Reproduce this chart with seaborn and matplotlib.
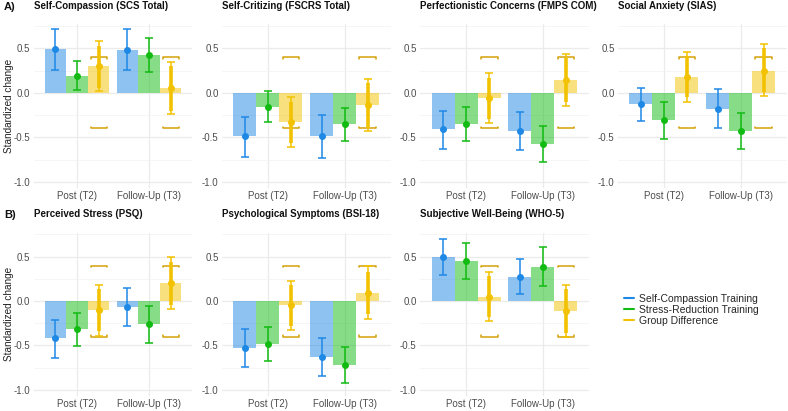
import numpy as np
import pandas as pd
import seaborn as sns
import matplotlib.pyplot as plt
from matplotlib.lines import Line2D

# Daten
measures = [
    "Self-Compassion (SCS Total)",
    "Self-Critizing (FSCRS Total)",
    "Perfectionistic Concerns (FMPS COM)",
    "Social Anxiety (SIAS)",
    "Perceived Stress (PSQ)",
    "Psychological Symptoms (BSI-18)",
    "Subjective Well-Being (WHO-5)",
]
times = ["Post (T2)", "Follow-Up (T3)"]
groups = ["Self-Compassion Training", "Stress-Reduction Training", "Group Difference"]

# je Messung: Post, Follow-Up
sct_est = [0.49, 0.48, -0.49, -0.49, -0.41, -0.43, -0.13, -0.18, -0.42, -0.07, -0.53, -0.63, 0.50, 0.27]
sct_lo = [0.26, 0.26, -0.72, -0.73, -0.63, -0.64, -0.32, -0.40, -0.64, -0.28, -0.74, -0.85, 0.29, 0.08]
sct_hi = [0.72, 0.72, -0.27, -0.25, -0.20, -0.22, 0.06, 0.04, -0.21, 0.15, -0.32, -0.42, 0.70, 0.47]

srt_est = [0.19, 0.43, -0.16, -0.35, -0.35, -0.57, -0.31, -0.43, -0.32, -0.26, -0.48, -0.72, 0.45, 0.38]
srt_lo = [0.03, 0.24, -0.33, -0.54, -0.54, -0.78, -0.52, -0.63, -0.51, -0.47, -0.67, -0.92, 0.25, 0.165]
srt_hi = [0.36, 0.62, 0.02, -0.17, -0.16, -0.37, -0.10, -0.23, -0.13, -0.06, -0.29, -0.52, 0.65, 0.61]

diff_est = [0.30, 0.05, -0.33, -0.14, -0.06, 0.14, 0.18, 0.25, -0.10, 0.20, -0.05, 0.09, 0.045, -0.11]
diff_lo95 = [0.02, -0.24, -0.61, -0.43, -0.34, -0.15, -0.10, -0.04, -0.39, -0.09, -0.33, -0.20, -0.23, -0.41]
diff_hi95 = [0.58, 0.35, -0.05, 0.16, 0.22, 0.44, 0.46, 0.55, 0.18, 0.50, 0.23, 0.39, 0.33, 0.18]
diff_lo90 = [0.06, -0.20, -0.56, -0.39, -0.29, -0.10, -0.05, 0.01, -0.34, -0.04, -0.28, -0.15, -0.18, -0.36]
diff_hi90 = [0.53, 0.30, -0.10, 0.11, 0.17, 0.39, 0.41, 0.50, 0.13, 0.44, 0.18, 0.33, 0.28, 0.13]

eq_bound = 0.4

colors = {"Self-Compassion Training": "#1E88E5",
          "Stress-Reduction Training": "#11BB11",
          "Group Difference": "#F2C200"}
bracket_color = "#D4A20A"

# Tabelle im langen Format
rows = []
for k, m in enumerate(measures):
    for j, t in enumerate(times):
        i = 2 * k + j
        rows.append((m, t, groups[0], sct_est[i], sct_lo[i], sct_hi[i], np.nan, np.nan))
        rows.append((m, t, groups[1], srt_est[i], srt_lo[i], srt_hi[i], np.nan, np.nan))
        rows.append((m, t, groups[2], diff_est[i], diff_lo95[i], diff_hi95[i], diff_lo90[i], diff_hi90[i]))
df = pd.DataFrame(rows, columns=["measure", "time", "group", "est", "lo", "hi", "lo90", "hi90"])

sns.set_theme(style="white")
plt.rcParams["font.family"] = ["Liberation Sans", "DejaVu Sans"]

W, H = 788, 411
fig = plt.figure(figsize=(W / 100, H / 100), dpi=100)


def rect(l, t, r, b):
    return [l / W, (H - b) / H, (r - l) / W, (b - t) / H]


cols = [(33.8, 192.2), (222, 390.5), (420, 589), (618, 786.5)]
rws = [(24.5, 188), (232.7, 396)]

for k, m in enumerate(measures):
    r, c = divmod(k, 4)
    ax = fig.add_axes(rect(cols[c][0], rws[r][0], cols[c][1], rws[r][1]))
    sub = df[df["measure"] == m]
    sns.barplot(data=sub, x="time", y="est", hue="group", order=times, hue_order=groups,
                palette=colors, width=0.9, errorbar=None, legend=False, alpha=0.5,
                saturation=1, linewidth=0, ax=ax, zorder=2)

    for g, cont in zip(groups, ax.containers):
        gd = sub[sub["group"] == g].set_index("time").loc[times]
        xs = np.array([b.get_x() + b.get_width() / 2 for b in cont])
        col = colors[g]
        if g == "Group Difference":
            for x in xs:
                for s in (1, -1):
                    b = s * eq_bound
                    ax.plot([x - 0.11, x - 0.11, x + 0.11, x + 0.11],
                            [b - s * 0.02, b, b, b - s * 0.02],
                            color=bracket_color, lw=1.1, zorder=3)
            ax.vlines(xs, gd["lo90"], gd["hi90"], color=col, lw=2.6, zorder=4)
        ax.errorbar(xs, gd["est"], yerr=[gd["est"] - gd["lo"], gd["hi"] - gd["est"]],
                    fmt="o", color=col, ms=4, capsize=3, elinewidth=1.1, capthick=1.1, zorder=5)

    ax.set_xlim(-0.6, 1.6)
    ax.set_ylim(-1.07, 0.77)
    ax.set_yticks([-1.0, -0.5, 0.0, 0.5])
    ax.set_yticklabels(["-1.0", "-0.5", "0.0", "0.5"])
    ax.set_yticks([-0.75, -0.25, 0.25, 0.75], minor=True)
    ax.grid(True, which="major", color="#EBEBEB", lw=0.9, zorder=0)
    ax.grid(True, which="minor", axis="y", color="#F2F2F2", lw=0.5, zorder=0)
    ax.set_axisbelow(True)
    for sp in ax.spines.values():
        sp.set_visible(False)
    ax.tick_params(axis="both", which="both", length=0, labelsize=7, colors="#4D4D4D", pad=2.5)
    ax.set_xlabel("")
    if c == 0:
        ax.set_ylabel("Standardized change", fontsize=7.2, color="#222222")
        ax.yaxis.set_label_coords(-0.125, 0.5)
    else:
        ax.set_ylabel("")
    ax.set_title(m, loc="left", fontweight="bold", fontsize=7, pad=11, color="#111111")

fig.text(4 / W, 1 - 10 / H, "A)", fontsize=8, fontweight="bold", va="baseline", color="#111111")
fig.text(4 / W, 1 - 218 / H, "B)", fontsize=8, fontweight="bold", va="baseline", color="#111111")

handles = [Line2D([0], [0], color=colors[g], lw=1.5) for g in groups]
fig.legend(handles, groups, loc="center left", bbox_to_anchor=(624 / W, 1 - 310 / H),
           frameon=False, fontsize=7.5, handlelength=1.0, handletextpad=0.4,
           labelspacing=0.1, borderaxespad=0, borderpad=0)

fig.savefig("out.png", dpi=100)
